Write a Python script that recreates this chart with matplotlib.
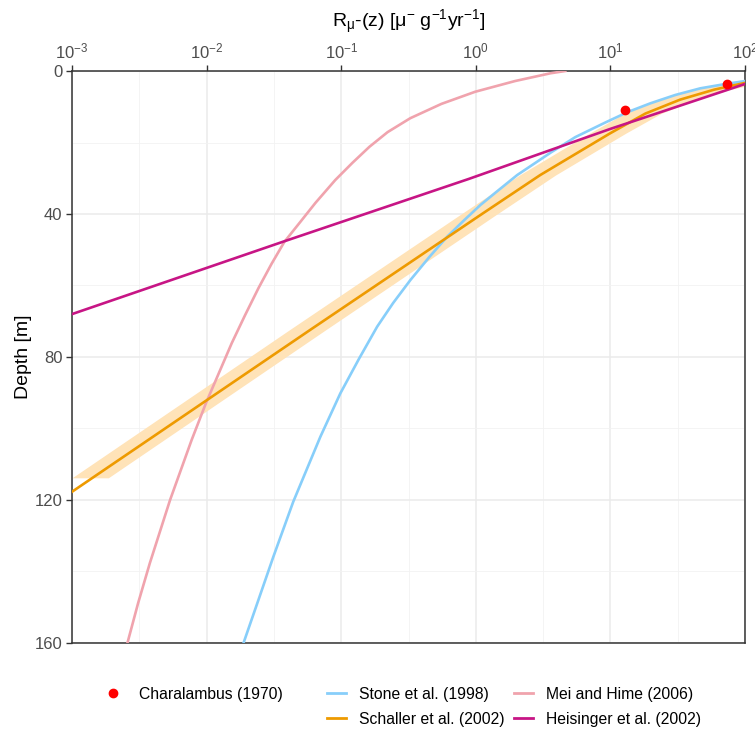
import matplotlib.pyplot as plt
from matplotlib.lines import Line2D
from matplotlib.ticker import LogLocator, FixedLocator, NullFormatter

plt.rcParams['font.family'] = ['Liberation Sans', 'DejaVu Sans']
plt.rcParams['mathtext.fontset'] = 'custom'
plt.rcParams['mathtext.rm'] = 'Liberation Sans'
plt.rcParams['mathtext.it'] = 'Liberation Sans:italic'
plt.rcParams['mathtext.default'] = 'regular'

# Charalambus (1970) measurements
char_rate = [12.9, 73.5]
char_depth = [11.0, 3.6]

# Stone et al. (1998)
stone_rate = [100.5, 71.4, 46.6, 30.3, 19.8, 13.4, 9.17, 5.48, 3.64, 2.03,
              1.445, 1.08, 0.821, 0.614, 0.452, 0.326, 0.243, 0.185, 0.136,
              0.0984, 0.070, 0.044, 0.0313, 0.0188]
stone_depth = [2.8, 3.64, 4.84, 6.71, 9.04, 11.5, 14.4, 18.5, 22.7, 29.1,
               33.6, 37.5, 41.7, 46.3, 52.0, 58.5, 64.9, 71.5, 80.4,
               90.2, 102.3, 120.5, 135.9, 160.0]

# Mei and Hime (2006)
mei_rate = [4.62, 3.58, 1.96, 0.99, 0.555, 0.326, 0.221, 0.162, 0.121,
            0.0903, 0.0643, 0.0497, 0.0378, 0.0303, 0.0243, 0.0193, 0.01538,
            0.00991, 0.00774, 0.00535, 0.00379, 0.00310, 0.00258]
mei_depth = [0.0, 0.64, 2.8, 5.8, 9.2, 13.2, 17.1, 21.2, 25.7,
             30.5, 36.9, 42.2, 47.8, 54.0, 60.7, 68.3, 76.1,
             92.8, 103.2, 120.0, 137.6, 148.8, 160.0]

# Heisinger et al. (2002)
heis_rate = [0.001, 0.0373, 0.885, 9.98, 100.5]
heis_depth = [68.0, 47.7, 30.2, 16.2, 3.6]

# Schaller et al. (2002) with uncertainty band
schal_rate = [0.001, 0.0589, 1.08, 3.01, 9.98, 18.2, 33.0, 59.2, 100.5]
schal_depth = [117.7, 72.4, 40.3, 29.1, 17.4, 11.9, 8.0, 5.2, 3.3]
band_depth = [113.8, 72.4, 40.3, 29.1, 17.4, 11.9, 8.0, 5.2, 3.3]
band_lo = [0.00100, 0.0412, 0.756, 2.11, 6.99, 12.7, 23.1, 41.4, 70.4]
band_hi = [0.00186, 0.0766, 1.40, 3.91, 13.0, 23.7, 42.9, 77.0, 131.0]

fig = plt.figure(figsize=(7.55, 7.29), dpi=100)
ax = fig.add_axes([0.0954, 0.118, 0.8914, 0.7846])

ax.fill_betweenx(band_depth, band_lo, band_hi, color='#FFE3B8', lw=0, zorder=2)
ax.plot(stone_rate, stone_depth, color='#87CEFA', lw=1.9, zorder=3)
ax.plot(mei_rate, mei_depth, color='#F0A3AD', lw=1.9, zorder=3)
ax.plot(schal_rate, schal_depth, color='#EE9A00', lw=1.9, zorder=4)
ax.plot(heis_rate, heis_depth, color='#C71585', lw=1.9, zorder=4)
ax.plot(char_rate, char_depth, 'o', color='red', ms=6, zorder=5, clip_on=False)

ax.set_xscale('log')
ax.set_xlim(1e-3, 1e2)
ax.set_ylim(160, 0)

ax.xaxis.set_major_locator(LogLocator(base=10, numticks=10))
ax.xaxis.set_minor_locator(FixedLocator([10 ** (e + 0.5) for e in range(-3, 2)]))
ax.xaxis.set_minor_formatter(NullFormatter())
ax.yaxis.set_major_locator(FixedLocator([0, 40, 80, 120, 160]))
ax.yaxis.set_minor_locator(FixedLocator([20, 60, 100, 140]))

ax.xaxis.tick_top()
ax.xaxis.set_label_position('top')
ax.tick_params(which='major', length=4, width=1, color='#333333',
               labelsize=12, labelcolor='#4D4D4D', pad=3)
ax.tick_params(which='minor', length=0)
ax.tick_params(axis='x', which='both', bottom=False)

ax.grid(which='major', color='#EBEBEB', lw=1.1, zorder=0)
ax.grid(which='minor', color='#F2F2F2', lw=0.6, zorder=0)
ax.set_axisbelow(True)
for s in ax.spines.values():
    s.set_color('#333333')
    s.set_linewidth(1.1)

ax.set_xlabel(r'R$_{\mu}$-(z) [$\mu^{-}$ g$^{-1}$yr$^{-1}$]', fontsize=14, labelpad=10)
ax.set_ylabel('Depth [m]', fontsize=14, labelpad=2)

h_char = Line2D([], [], ls='none', marker='o', color='red', ms=6)
fig.legend([h_char], ['Charalambus (1970)'], loc='upper left',
           bbox_to_anchor=(0.117, 0.077), frameon=False, fontsize=11.3,
           handlelength=1.3, handletextpad=1.0)
h_lines = [Line2D([], [], color='#87CEFA', lw=2),
           Line2D([], [], color='#EE9A00', lw=2),
           Line2D([], [], color='#F0A3AD', lw=2),
           Line2D([], [], color='#C71585', lw=2)]
labels = ['Stone et al. (1998)', 'Schaller et al. (2002)',
          'Mei and Hime (2006)', 'Heisinger et al. (2002)']
fig.legend(h_lines, labels, ncol=2, loc='upper left',
           bbox_to_anchor=(0.414, 0.077), frameon=False, fontsize=11.3,
           handlelength=1.25, handletextpad=0.8, columnspacing=0.6,
           labelspacing=0.62)

fig.savefig('out.png', dpi=100)
